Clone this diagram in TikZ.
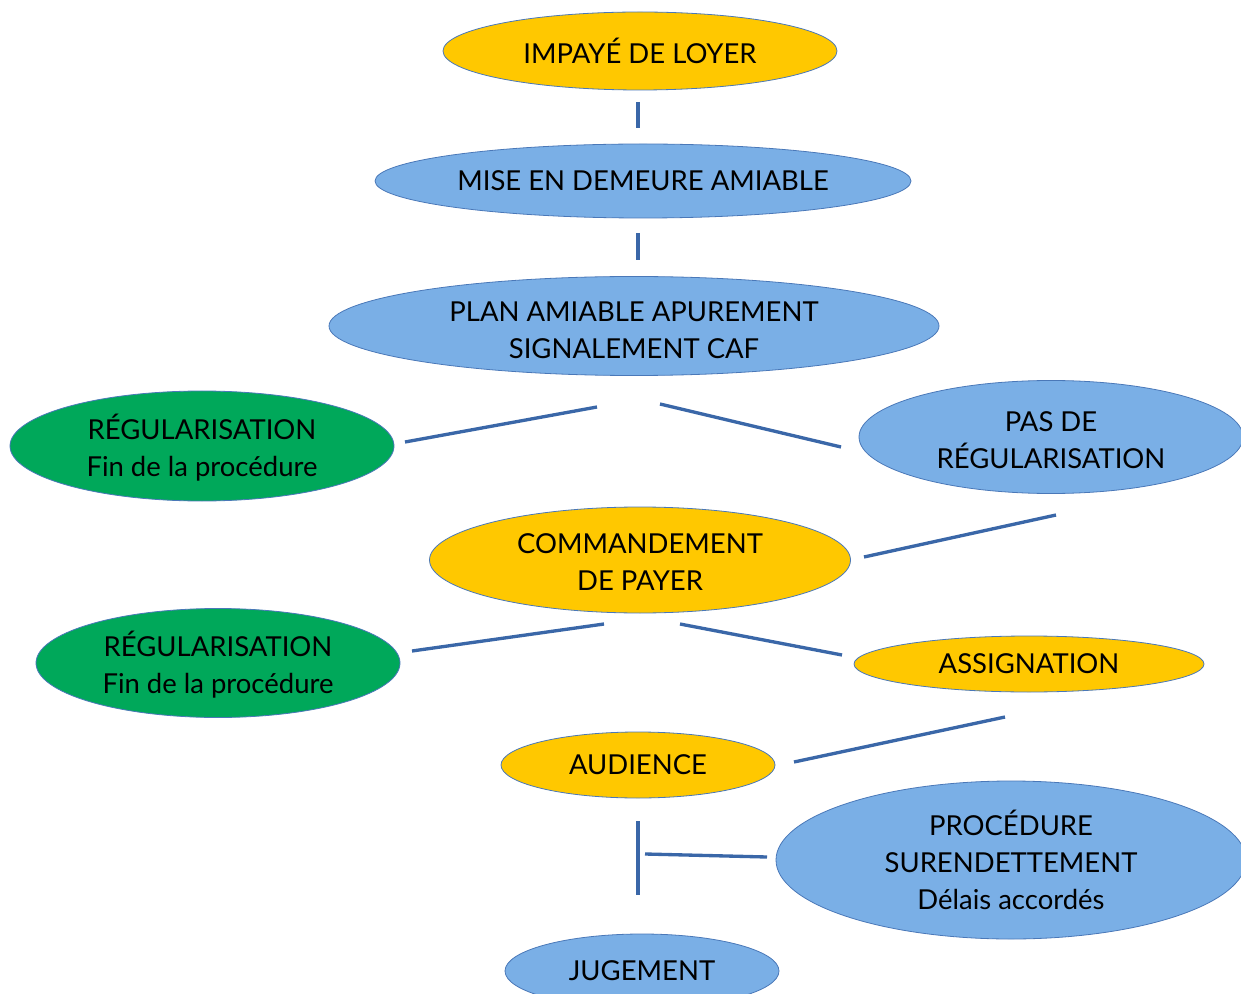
\documentclass[tikz,border=0pt]{standalone}
\usepackage{fontspec}
\setmainfont{Lato}
\usetikzlibrary{shapes.geometric}
\definecolor{yel}{HTML}{FFC800}
\definecolor{blu}{HTML}{7AAFE6}
\definecolor{grn}{HTML}{00A85A}
\definecolor{edge}{HTML}{4A78B8}
\definecolor{conn}{HTML}{3A67A8}
\begin{document}
\begin{tikzpicture}[x=0.75pt,y=-0.75pt,
  txt/.style={inner sep=0pt, align=center, font=\fontsize{20.6}{27.75}\selectfont, text=black},
  oval/.style={ellipse, draw=edge, line width=0.6pt, inner sep=0pt, txt},
  sz/.style 2 args={minimum width=#1*0.75pt, minimum height=#2*0.75pt},
  yoval/.style={oval, fill=yel},
  boval/.style={oval, fill=blu},
  goval/.style={oval, fill=grn},
  link/.style={draw=conn, line width=2.5pt}]
\useasboundingbox (0,0) rectangle (1241,994);
\clip (0,0) rectangle (1241,994);
\node[yoval, sz={394}{78}] (impaye) at (640,51) {IMPAYÉ DE LOYER};
\node[boval, sz={536}{74}] (mise) at (643,181) {MISE EN DEMEURE AMIABLE};
\node[boval, sz={610}{99}, label={[txt, yshift=-3pt]center:PLAN AMIABLE APUREMENT\\SIGNALEMENT CAF}] (plan) at (634,326) {};
\node[goval, sz={384}{110}, label={[txt, yshift=-1.5pt]center:RÉGULARISATION\\Fin de la procédure}] (reg1) at (202,446) {};
\node[boval, sz={384}{113}, label={[txt, yshift=-2.2pt]center:PAS DE\\RÉGULARISATION}] (pas) at (1051,437) {};
\node[yoval, sz={421}{106}, label={[txt, yshift=-1.5pt]center:COMMANDEMENT\\DE PAYER}] (cmd) at (640,560) {};
\node[goval, sz={364}{109}, label={[txt, yshift=-1pt]center:RÉGULARISATION\\Fin de la procédure}] (reg2) at (218,663) {};
\node[yoval, sz={350}{56}] (assig) at (1029,664) {ASSIGNATION};
\node[yoval, sz={274}{66}] (aud) at (638,765) {AUDIENCE};
\node[boval, sz={470}{158}] (surend) at (1011,860) {PROCÉDURE\\SURENDETTEMENT\\Délais accordés};
\node[boval, sz={274}{74}, label={[txt]center:JUGEMENT}] (jug) at (642,971) {};
% connectors (free-floating segments between nodes)
\coordinate (a1) at (638,102); \coordinate (a2) at (638,128);
\coordinate (b1) at (638,233); \coordinate (b2) at (638,260);
\coordinate (c1) at (405,442); \coordinate (c2) at (597,407);
\coordinate (d1) at (660,404); \coordinate (d2) at (841,447);
\coordinate (e1) at (864,557); \coordinate (e2) at (1056,515);
\coordinate (f1) at (412,651); \coordinate (f2) at (604,624);
\coordinate (g1) at (680,624); \coordinate (g2) at (842,655);
\coordinate (h1) at (794,762); \coordinate (h2) at (1005,717);
\coordinate (i1) at (638,821); \coordinate (i2) at (638,895);
\coordinate (j1) at (645,854); \coordinate (j2) at (767,857);
\path[link] (a1) -- (a2);
\path[link] (b1) -- (b2);
\path[link] (c1) -- (c2);
\path[link] (d1) -- (d2);
\path[link] (e1) -- (e2);
\path[link] (f1) -- (f2);
\path[link] (g1) -- (g2);
\path[link] (h1) -- (h2);
\path[link] (i1) -- (i2);
\path[link] (j1) -- (j2);
\end{tikzpicture}
\end{document}
